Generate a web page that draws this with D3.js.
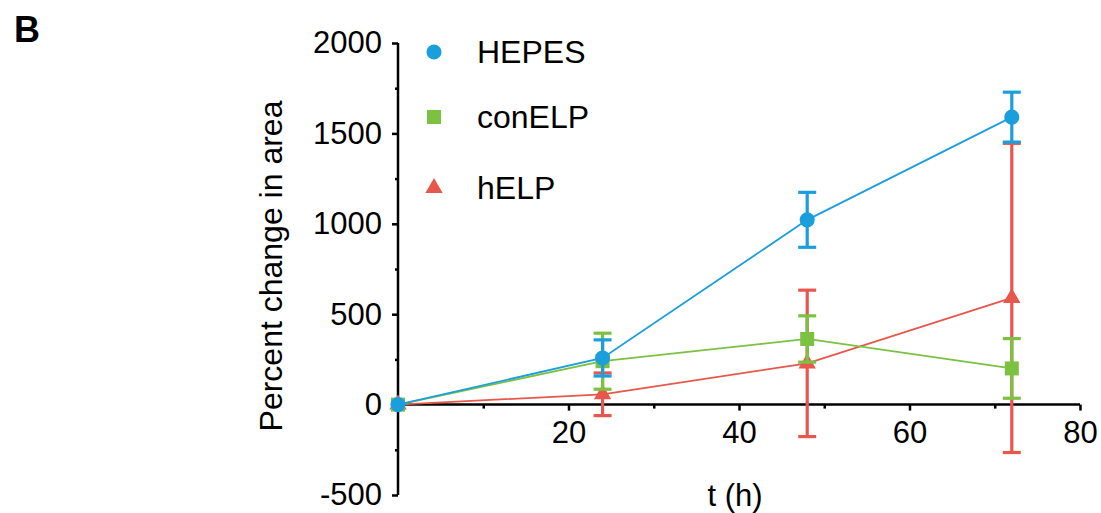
<!DOCTYPE html>
<html><head><meta charset="utf-8">
<script src="https://cdn.jsdelivr.net/npm/d3@7"></script>
<style>body{margin:0;background:#fff}</style>
</head><body>
<svg id="c" width="1101" height="513"></svg>
<script>
const times = [0, 24, 48, 72];
const hepesMean = [0, 258, 1022, 1590];
const hepesErr  = [0, 100, 152, 138];
const conMean   = [0, 240, 363, 200];
const conErr    = [0, 155, 128, 165];
const helpMean  = [0, 57, 228, 590];
const helpErr   = [0, 118, 405, 855];
const yTicks = [-500, 0, 500, 1000, 1500, 2000];
const yTickLabels = ["-500", "0", "500", "1000", "1500", "2000"];
const xTicks = [20, 40, 60, 80];
const seriesNames = ["HEPES", "conELP", "hELP"];
const colors = {HEPES: "#1b9fdc", conELP: "#7cc142", hELP: "#e8574b"};

const series = [
  {name: "hELP", mean: helpMean, err: helpErr, shape: d3.symbolTriangle},
  {name: "conELP", mean: conMean, err: conErr, shape: d3.symbolSquare},
  {name: "HEPES", mean: hepesMean, err: hepesErr, shape: d3.symbolCircle}
];

const svg = d3.select("#c");
const font = "Liberation Sans, Arial, Helvetica, sans-serif";
const fs = 31;
const x = d3.scaleLinear().domain([0, 80]).range([398, 1080]);
const y = d3.scaleLinear().domain([-500, 2000]).range([495, 43]);

svg.append("text").attr("x", 14).attr("y", 42).attr("font-family", font)
  .attr("font-weight", "bold").attr("font-size", 36).text("B");

// y axis
const yAxis = d3.axisLeft(y).tickValues(yTicks).tickSize(6).tickPadding(10)
  .tickFormat((d, i) => yTickLabels[i]);
const gy = svg.append("g").attr("transform", `translate(${x(0)},0)`).call(yAxis);
gy.select(".domain").attr("stroke", "#000").attr("stroke-width", 2.5).attr("d", `M0,${y(-500)}V${y(2000)}`);
gy.selectAll(".tick line").attr("stroke-width", 2.5);
gy.selectAll(".tick text").attr("font-family", font).attr("font-size", fs).attr("fill", "#000");
const yMinor = d3.axisLeft(y).tickValues(d3.range(-250, 2000, 500)).tickSize(3).tickFormat("");
const gym = svg.append("g").attr("transform", `translate(${x(0)},0)`).call(yMinor);
gym.select(".domain").remove();
gym.selectAll(".tick line").attr("stroke-width", 2.5);

// x axis
const xAxis = d3.axisBottom(x).tickValues(xTicks).tickSize(6).tickPadding(10);
const gx = svg.append("g").attr("transform", `translate(0,${y(0)})`).call(xAxis);
gx.select(".domain").attr("stroke", "#000").attr("stroke-width", 2.5).attr("d", `M${x(0)},0H${x(80)}`);
gx.selectAll(".tick line").attr("stroke-width", 2.5);
gx.selectAll(".tick text").attr("font-family", font).attr("font-size", fs).attr("fill", "#000");
const xMinor = d3.axisBottom(x).tickValues([10, 30, 50, 70]).tickSize(4).tickFormat("");
const gxm = svg.append("g").attr("transform", `translate(0,${y(0)})`).call(xMinor);
gxm.select(".domain").remove();
gxm.selectAll(".tick line").attr("stroke-width", 2.5);

// labels
svg.append("text").attr("transform", `translate(282,266) rotate(-90)`).attr("text-anchor", "middle")
  .attr("font-family", font).attr("font-size", 32).text("Percent change in area");
svg.append("text").attr("x", 735).attr("y", 506).attr("text-anchor", "middle")
  .attr("font-family", font).attr("font-size", fs).text("t (h)");

// series
const line = d3.line().x(d => x(d.t)).y(d => y(d.v));
series.forEach(s => {
  const pts = times.map((t, i) => ({t, v: s.mean[i], e: s.err[i]}));
  const g = svg.append("g");
  const c = colors[s.name];
  g.append("path").datum(pts).attr("d", line).attr("fill", "none").attr("stroke", c).attr("stroke-width", 1.8);
  const eb = g.selectAll(".eb").data(pts.filter(p => p.e > 0)).enter().append("g");
  eb.append("line").attr("x1", d => x(d.t)).attr("x2", d => x(d.t))
    .attr("y1", d => y(d.v - d.e)).attr("y2", d => y(d.v + d.e)).attr("stroke", c).attr("stroke-width", 3.2);
  [-1, 1].forEach(sg => {
    eb.append("line").attr("x1", d => x(d.t) - 9).attr("x2", d => x(d.t) + 9)
      .attr("y1", d => y(d.v + sg * d.e)).attr("y2", d => y(d.v + sg * d.e)).attr("stroke", c).attr("stroke-width", 3.2);
  });
  const sz = s.shape === d3.symbolCircle ? 180 : (s.shape === d3.symbolSquare ? 196 : 130);
  g.selectAll(".m").data(pts).enter().append("path")
    .attr("d", d3.symbol().type(s.shape).size(sz))
    .attr("transform", d => `translate(${x(d.t)},${y(d.v)})`).attr("fill", c);
});

// legend
const legY = {HEPES: 52, conELP: 117, hELP: 188};
const shapes = {HEPES: d3.symbolCircle, conELP: d3.symbolSquare, hELP: d3.symbolTriangle};
seriesNames.forEach(n => {
  const sz = n === "HEPES" ? 180 : (n === "conELP" ? 196 : 130);
  svg.append("path").attr("d", d3.symbol().type(shapes[n]).size(sz))
    .attr("transform", `translate(434,${legY[n]})`).attr("fill", colors[n]);
  svg.append("text").attr("x", 477).attr("y", legY[n]).attr("dy", "0.35em")
    .attr("font-family", font).attr("font-size", 32).text(n);
});
</script>
</body></html>
